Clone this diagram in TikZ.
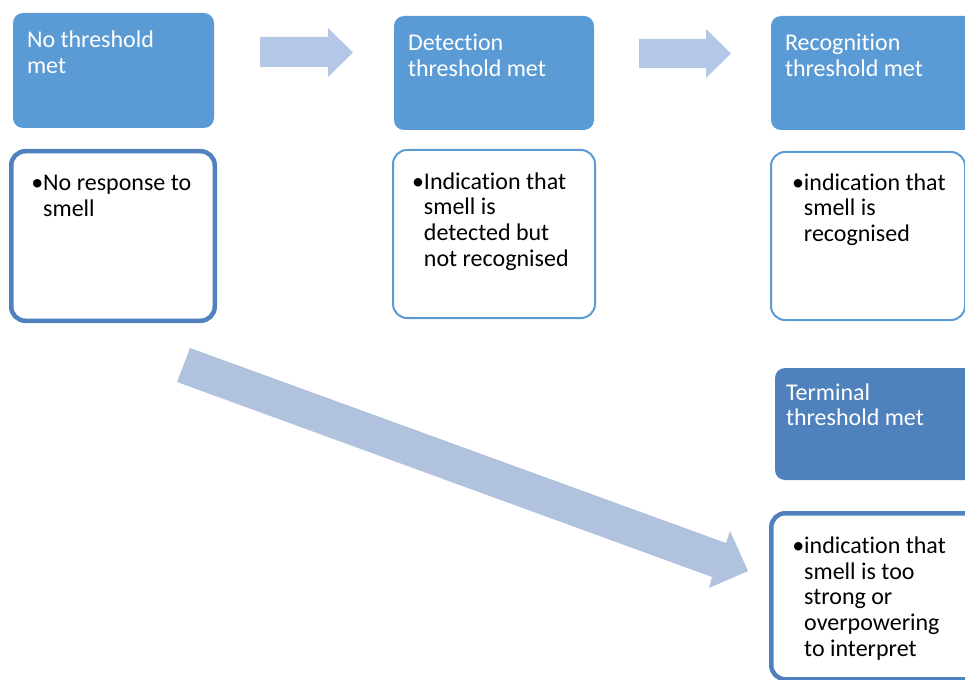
\documentclass[tikz,border=0pt]{standalone}
\usepackage{fontspec}
\setmainfont{Carlito}[Ligatures={NoCommon}]
\usetikzlibrary{positioning,calc}

\definecolor{headBlue}{HTML}{5B9BD5}
\definecolor{termBlue}{HTML}{4F81BD}
\definecolor{lineBlue}{HTML}{5080BE}
\definecolor{arrowBlue}{HTML}{B4C7E7}
\definecolor{bigArrowBlue}{HTML}{B1C2DE}

\newcommand{\headText}[1]{\begin{tabular}[t]{@{}l@{}}#1\end{tabular}}
\newcommand{\bulletText}[1]{\begin{tabular}[t]{@{}l@{}l@{}}#1\end{tabular}}

\begin{document}
\begin{tikzpicture}[x=1pt, y=-1pt,
        every node/.style={inner sep=0pt, outer sep=0pt, font=\fontsize{24}{25.8}\selectfont},
        headBox/.style={fill=headBlue, rounded corners=10pt, anchor=north west},
        thickBody/.style={draw=lineBlue, line width=4.5pt, fill=white, rounded corners=14pt, anchor=north west},
        thinBody/.style={draw=headBlue, line width=2pt, fill=white, rounded corners=14pt, anchor=north west},
        headLabel/.style={anchor=base west, text=white},
        bodyLabel/.style={anchor=base west, text=black}
    ]
    \useasboundingbox (0,0) rectangle (965,679);
    \clip (0,0) rectangle (965,679);

    % header boxes
    \node[headBox, minimum width=201pt, minimum height=115pt] (noHead) at (13,13) {};
    \node[headBox, minimum width=200pt, minimum height=114pt] (detHead) at (394,16) {};
    \node[headBox, minimum width=210pt, minimum height=114pt] (recHead) at (771,16) {};
    \node[headBox, fill=termBlue, minimum width=210pt, minimum height=112pt] (termHead) at (775,368) {};

    % body boxes
    \node[thickBody, minimum width=203.5pt, minimum height=169.5pt] (noBody) at (11.25,151.25) {};
    \node[thinBody, minimum width=194pt, minimum height=168pt] (recBody) at (771,152) {};
    \node[thinBody, minimum width=202pt, minimum height=168pt] (detBody) at (393,150) {};
    \node[thickBody, minimum width=210pt, minimum height=166pt] (termBody) at (771.25,513.25) {};

    % header texts
    \node[headLabel] (noHeadText) at ($(noHead.north west)+(14,35)$) {\headText{No threshold\\met}};
    \node[headLabel] (detHeadText) at ($(detHead.north west)+(14,35)$) {\headText{Detection\\threshold met}};
    \node[headLabel] (recHeadText) at ($(recHead.north west)+(14,35)$) {\headText{Recognition\\threshold met}};
    \node[headLabel] (termHeadText) at ($(termHead.north west)+(11,32)$) {\headText{Terminal\\threshold met}};

    % body texts
    \node[bodyLabel] (noBodyText) at ($(noBody.north west)+(20,39)$)
        {\bulletText{•&No response to\\&smell}};
    \node[bodyLabel] (detBodyText) at ($(detBody.north west)+(19,39)$)
        {\bulletText{•&Indication that\\&smell is\\&detected but\\&not recognised}};
    \node[bodyLabel] (recBodyText) at ($(recBody.north west)+(21,38)$)
        {\bulletText{•&indication that\\&smell is\\&recognised}};
    \node[bodyLabel] (termBodyText) at ($(termBody.north west)+(21,40)$)
        {\bulletText{•&indication that\\&smell is too\\&strong or\\&overpowering\\&to interpret}};

    % block arrows
    \fill[arrowBlue] (260,37) -- (328,37) -- (328,28) -- (353,52.5) -- (328,77) -- (328,67) -- (260,67) -- cycle;
    \fill[arrowBlue] (639,39) -- (706,39) -- (706,29) -- (731,53.5) -- (706,78) -- (706,68) -- (639,68) -- cycle;
    \fill[bigArrowBlue] (190,348) -- (726,543) -- (730,531) -- (748,571) -- (709,588) -- (712,577) -- (177,382) -- cycle;
\end{tikzpicture}
\end{document}
